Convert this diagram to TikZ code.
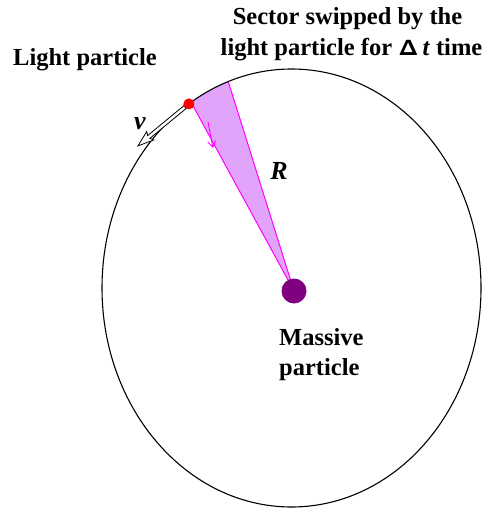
\documentclass[tikz,border=0pt]{standalone}
\usepackage{fontspec}
\setmainfont{Liberation Serif}
\usetikzlibrary{arrows.meta,calc}
\definecolor{sectfill}{RGB}{226,164,250}
\definecolor{sectedge}{RGB}{255,0,255}
\definecolor{massive}{RGB}{128,0,128}
\tikzset{
  lbl/.style={font=\fontsize{24.5}{31}\selectfont\bfseries, inner sep=0pt},
  sym/.style={font=\fontsize{26}{30}\selectfont\bfseries\itshape, inner sep=0pt},
}
\begin{document}
\begin{tikzpicture}[x=1pt,y=1pt]
\useasboundingbox (0,0) rectangle (486,-508);
\coordinate (C) at (291.5,-288);
% sector
\coordinate (S1) at ($(C)+({189.5*cos(122)},{219*sin(122)})$);
\coordinate (S2) at ($(C)+({189.5*cos(109.5)},{219*sin(109.5)})$);
\coordinate (M) at (294,-291);
\fill[sectfill] (M) -- (S1) arc[start angle=122, end angle=109.5, x radius=189.5, y radius=219] -- cycle;
\draw[sectedge, line width=1pt] (S1) -- (M) -- (S2);
% orbit
\draw[line width=1.1pt] (C) ellipse [x radius=189.5, y radius=219];
% small arrow inside sector
\coordinate (a1) at (208,-122);
\coordinate (a2) at (213,-148);
\draw[sectedge, line width=0.9pt, -{Straight Barb[length=6pt,width=8pt]}] (a1) -- (a2);
% massive particle
\fill[massive] (M) circle[radius=12.5];
% light particle
\coordinate (P) at ($(C)+({189.5*cos(122.8)},{219*sin(122.8)})$);
% velocity arrow (hollow)
\begin{scope}[shift={(P)}, rotate=219.5]
\draw[line width=0.8pt, fill=white] (5,-1.8) -- (52,-1.8) -- (50,-5.5) -- (66,0) -- (50,5.5) -- (52,1.8) -- (5,1.8) -- cycle;
\end{scope}
\fill[red] (P) circle[radius=5.5];
% labels
\node[lbl, anchor=base west] (lp) at (13,-66) {Light particle};
\node[lbl, anchor=base] (s1) at (347.5,-25) {Sector swipped by the};
\node[lbl, anchor=base] (s2) at (351.5,-56) {light particle for {\fontsize{22}{26}\selectfont\textsf{Δ}}\,\textit{t} time};
\node[lbl, anchor=base west] (m1) at (279,-345) {Massive};
\node[lbl, anchor=base west] (m2) at (279,-375) {particle};
\node[sym] (v) at (140,-124) {v};
\node[sym] (R) at (279,-171) {R};
\end{tikzpicture}
\end{document}
